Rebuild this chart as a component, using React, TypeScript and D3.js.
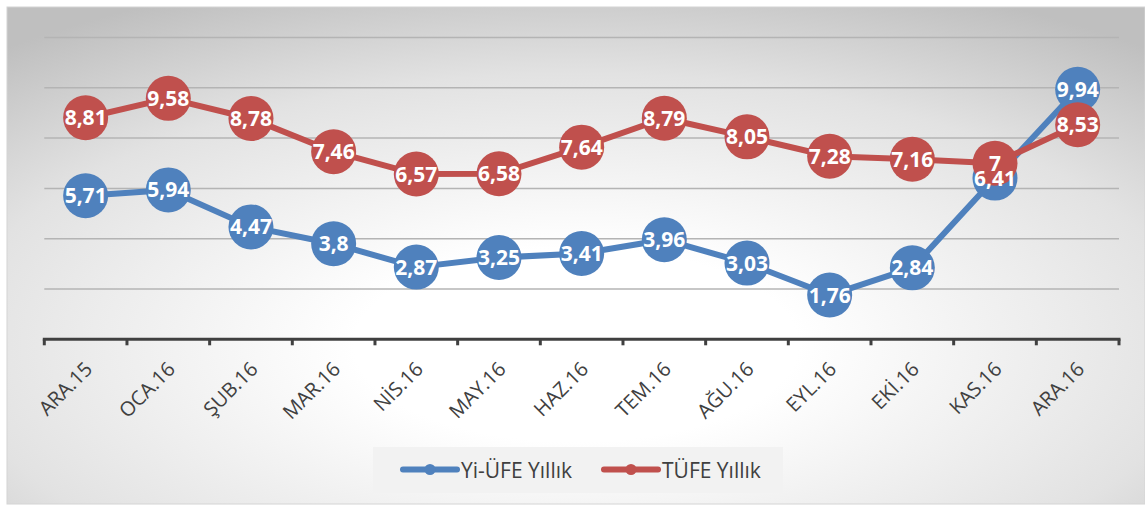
import React, { useEffect, useRef } from "react";
import * as d3 from "d3";

const months = [
  "ARA.15", "OCA.16", "ŞUB.16", "MAR.16", "NİS.16", "MAY.16", "HAZ.16",
  "TEM.16", "AĞU.16", "EYL.16", "EKİ.16", "KAS.16", "ARA.16",
];
const yiUfe = [5.71, 5.94, 4.47, 3.8, 2.87, 3.25, 3.41, 3.96, 3.03, 1.76, 2.84, 6.41, 9.94];
const tufe = [8.81, 9.58, 8.78, 7.46, 6.57, 6.58, 7.64, 8.79, 8.05, 7.28, 7.16, 7, 8.53];
const gridTicks = [2, 4, 6, 8, 10, 12];

const seriesList = [
  { name: "Yi-ÜFE Yıllık", values: yiUfe, color: "#4f81bd" },
  { name: "TÜFE Yıllık", values: tufe, color: "#c0504d" },
];

const W = 1145;
const H = 505;

const App = () => {
  const svgRef = useRef<SVGSVGElement>(null);

  useEffect(() => {
    const svg = d3.select(svgRef.current);
    svg.selectAll("*").remove(); // Clear SVG

    const margin = { left: 44.3, right: 1119, top: 37.5, bottom: 339.3 };

    // background gradient (white in the middle, grey towards the corners)
    const defs = svg.append("defs");
    const grad = defs
      .append("radialGradient")
      .attr("id", "bg")
      .attr("cx", 0.5)
      .attr("cy", 0.68)
      .attr("r", 0.78);
    grad.append("stop").attr("offset", "0%").attr("stop-color", "#ffffff");
    grad.append("stop").attr("offset", "25%").attr("stop-color", "#ffffff");
    grad.append("stop").attr("offset", "70%").attr("stop-color", "#e2e2e2");
    grad.append("stop").attr("offset", "100%").attr("stop-color", "#bfbfbf");

    svg
      .append("rect")
      .attr("x", 7)
      .attr("y", 7)
      .attr("width", W - 7)
      .attr("height", 497)
      .attr("fill", "url(#bg)")
      .attr("stroke", "#d4d4d4")
      .attr("stroke-width", 1);

    const xScale = d3
      .scaleBand()
      .domain(months)
      .range([margin.left, margin.right])
      .padding(0);
    const cx = (m: string) => (xScale(m) as number) + xScale.bandwidth() / 2;

    const yScale = d3
      .scaleLinear()
      .domain([0, 12])
      .range([margin.bottom, margin.top]);

    // gridlines
    svg
      .append("g")
      .selectAll("line")
      .data(gridTicks)
      .enter()
      .append("line")
      .attr("x1", margin.left)
      .attr("x2", margin.right)
      .attr("y1", (d) => yScale(d))
      .attr("y2", (d) => yScale(d))
      .attr("stroke", "#b4b4b4")
      .attr("stroke-width", 1.5);

    // x axis
    const xAxis = svg
      .append("g")
      .attr("transform", `translate(0, ${margin.bottom})`);

    const tickPos = months.map((m) => xScale(m) as number).concat([margin.right]);
    xAxis
      .selectAll(".tk")
      .data(tickPos)
      .enter()
      .append("line")
      .attr("x1", (d) => d)
      .attr("x2", (d) => d)
      .attr("y1", 0)
      .attr("y2", 6)
      .attr("stroke", "#404040")
      .attr("stroke-width", 3);
    xAxis
      .append("line")
      .attr("x1", margin.left - 1.5)
      .attr("x2", margin.right + 1.5)
      .attr("y1", 0)
      .attr("y2", 0)
      .attr("stroke", "#404040")
      .attr("stroke-width", 3);

    svg
      .append("g")
      .selectAll("text")
      .data(months)
      .enter()
      .append("text")
      .attr("transform", (d) => `translate(${cx(d) + 8}, ${margin.bottom + 31}) rotate(-45)`)
      .attr("text-anchor", "end")
      .style("font-family", "'Open Sans', sans-serif")
      .style("font-size", "20px")
      .style("fill", "#404040")
      .text((d) => d);

    // lines
    const line = d3
      .line<number>()
      .x((_, i) => cx(months[i]))
      .y((d) => yScale(d));

    seriesList.forEach((s) => {
      svg
        .append("path")
        .datum(s.values)
        .attr("d", line)
        .attr("fill", "none")
        .attr("stroke", s.color)
        .attr("stroke-width", 6)
        .attr("stroke-linejoin", "round");
      svg
        .append("g")
        .selectAll("circle")
        .data(s.values)
        .enter()
        .append("circle")
        .attr("cx", (_, i) => cx(months[i]))
        .attr("cy", (d) => yScale(d))
        .attr("r", 22.5)
        .attr("fill", s.color);
    });

    // data labels drawn on top of everything
    seriesList.forEach((s) => {
      svg
        .append("g")
        .selectAll("text")
        .data(s.values)
        .enter()
        .append("text")
        .attr("x", (_, i) => cx(months[i]))
        .attr("y", (d) => yScale(d))
        .attr("dy", "0.36em")
        .attr("text-anchor", "middle")
        .style("font-family", "'Open Sans', sans-serif")
        .style("font-weight", "bold")
        .style("font-size", "21px")
        .style("fill", "#ffffff")
        .text((d) => String(d).replace(".", ","));
    });

    // legend
    const legend = svg.append("g");
    legend
      .append("rect")
      .attr("x", 373)
      .attr("y", 447)
      .attr("width", 410)
      .attr("height", 46)
      .attr("fill", "#f2f2f2");

    const legendX = [401, 602];
    seriesList.forEach((s, i) => {
      const lx = legendX[i];
      legend
        .append("line")
        .attr("x1", lx + 2)
        .attr("x2", lx + 56)
        .attr("y1", 469.5)
        .attr("y2", 469.5)
        .attr("stroke", s.color)
        .attr("stroke-width", 6)
        .attr("stroke-linecap", "round");
      legend
        .append("circle")
        .attr("cx", lx + 29)
        .attr("cy", 469.5)
        .attr("r", 5.5)
        .attr("fill", s.color);
      legend
        .append("text")
        .attr("x", lx + 60)
        .attr("y", 477.5)
        .style("font-family", "'Open Sans', sans-serif")
        .style("font-size", "21px")
        .style("fill", "#404040")
        .text(s.name);
    });
  }, []);

  return (
    <svg
      ref={svgRef}
      width={W}
      height={H}
      style={{ position: "absolute", left: 0, top: 0, background: "#ffffff" }}
    ></svg>
  );
};

export default App;
